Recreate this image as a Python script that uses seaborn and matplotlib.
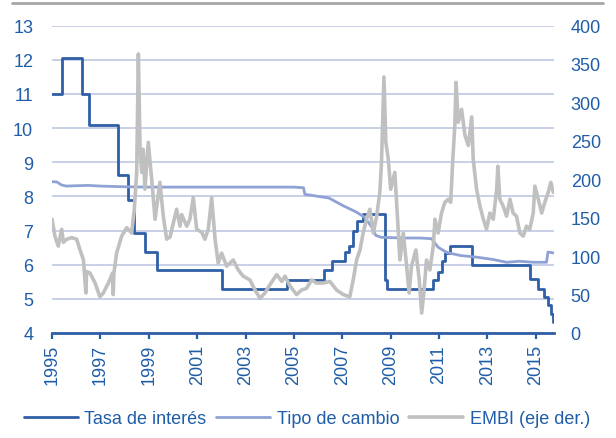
import numpy as np
import pandas as pd
import matplotlib
matplotlib.use("Agg")
import matplotlib.pyplot as plt
from matplotlib.lines import Line2D
import seaborn as sns

# Tasa de interés (escalones)
tasa_t = [1995.0, 1995.42, 1996.24, 1996.53, 1997.71, 1998.13, 1998.4, 1998.84,
          1999.33, 2002.03, 2004.7, 2006.24, 2006.56, 2007.1, 2007.29, 2007.45,
          2007.59, 2007.86, 2008.76, 2008.85, 2010.76, 2010.96, 2011.1, 2011.24,
          2011.45, 2012.36, 2014.77, 2015.1, 2015.35, 2015.5, 2015.64, 2015.7, 2015.75]
tasa_v = [11.0, 12.05, 11.0, 10.08, 8.62, 7.9, 6.92, 6.38,
          5.83, 5.3, 5.56, 5.85, 6.1, 6.38, 6.55, 7.0,
          7.27, 7.47, 5.56, 5.29, 5.56, 5.8, 6.12, 6.33,
          6.55, 5.99, 5.58, 5.29, 5.05, 4.82, 4.55, 4.33, 4.33]

# Tipo de cambio
tc_t = [1995.0, 1995.2, 1995.4, 1995.6, 1996.0, 1996.5, 1997.0, 1997.5, 1998.0,
        1999.0, 2001.0, 2003.0, 2005.0, 2005.4, 2005.45, 2006.45, 2007.05,
        2007.55, 2007.9, 2008.22, 2008.38, 2008.6, 2009.5, 2010.2, 2010.69,
        2010.96, 2011.31, 2011.86, 2012.55, 2013.24, 2013.79, 2014.34, 2014.89,
        2015.44, 2015.5, 2015.75]
tc_v = [8.43, 8.42, 8.33, 8.3, 8.31, 8.32, 8.3, 8.29, 8.28,
        8.27, 8.27, 8.27, 8.27, 8.25, 8.06, 7.95, 7.72,
        7.55, 7.4, 7.1, 6.86, 6.8, 6.78, 6.78, 6.76,
        6.51, 6.36, 6.27, 6.22, 6.15, 6.07, 6.1, 6.07,
        6.07, 6.37, 6.34]

# EMBI (eje derecho)
embi_t = [1995.0, 1995.12, 1995.26, 1995.4, 1995.47, 1995.61, 1995.82, 1996.02,
          1996.16, 1996.3, 1996.4, 1996.43, 1996.57, 1996.78, 1996.98, 1997.12,
          1997.33, 1997.5, 1997.53, 1997.56, 1997.67, 1997.88, 1998.09, 1998.29,
          1998.4, 1998.5, 1998.57, 1998.64, 1998.71, 1998.77, 1998.84, 1998.98,
          1999.12, 1999.26, 1999.46, 1999.6, 1999.74, 1999.88, 2000.15, 2000.29,
          2000.36, 2000.57, 2000.7, 2000.84, 2000.98, 2001.19, 2001.32, 2001.46,
          2001.6, 2001.74, 2001.87, 2002.01, 2002.22, 2002.49, 2002.7, 2002.9,
          2003.18, 2003.39, 2003.6, 2003.8, 2004.01, 2004.29, 2004.5, 2004.63,
          2004.84, 2005.11, 2005.32, 2005.52, 2005.73, 2005.93, 2006.21, 2006.49,
          2006.76, 2007.04, 2007.31, 2007.45, 2007.59, 2007.73, 2007.86, 2008.0,
          2008.14, 2008.28, 2008.42, 2008.55, 2008.62, 2008.72, 2008.8, 2008.9,
          2009.0, 2009.17, 2009.27, 2009.38, 2009.52, 2009.66, 2009.76, 2009.86,
          2010.04, 2010.18, 2010.28, 2010.37, 2010.48, 2010.62, 2010.76, 2010.83,
          2010.96, 2011.1, 2011.24, 2011.38, 2011.48, 2011.56, 2011.65, 2011.7,
          2011.79, 2011.93, 2012.07, 2012.21, 2012.35, 2012.41, 2012.55, 2012.69,
          2012.83, 2012.96, 2013.1, 2013.24, 2013.38, 2013.43, 2013.51, 2013.65,
          2013.79, 2013.93, 2014.06, 2014.2, 2014.34, 2014.48, 2014.61, 2014.75,
          2014.89, 2014.96, 2015.1, 2015.24, 2015.37, 2015.51, 2015.62, 2015.72]
embi_v = [148, 126, 113, 135, 118, 122, 124, 122,
          108, 95, 52, 80, 78, 65, 47, 52,
          65, 78, 50, 78, 104, 126, 137, 130,
          160, 209, 363, 239, 209, 239, 187, 248,
          200, 148, 196, 152, 122, 125, 161, 139,
          154, 139, 148, 176, 135, 131, 122, 135,
          176, 122, 91, 104, 87, 95, 82, 74,
          69, 56, 45, 52, 63, 76, 67, 74,
          61, 50, 56, 58, 69, 65, 65, 67,
          56, 50, 47, 69, 95, 108, 130, 148,
          161, 130, 152, 183, 222, 333, 248, 226,
          187, 209, 156, 95, 130, 87, 52, 87,
          108, 69, 26, 52, 95, 82, 113, 148,
          130, 156, 170, 174, 170, 222, 270, 326,
          274, 291, 257, 244, 281, 226, 187, 165,
          148, 135, 156, 148, 187, 217, 174, 165,
          152, 174, 156, 152, 130, 126, 139, 135,
          156, 191, 174, 156, 170, 183, 196, 183]

years = list(range(1995, 2016, 2))
labels = ["Tasa de interés", "Tipo de cambio", "EMBI (eje der.)"]

c_tasa = "#2F5FA7"
c_tc = "#8FA2D6"
c_embi = "#C0C0C0"
c_text = "#1F5DA8"
c_grid = "#B9C3E2"

sns.set_style("white")
plt.rcParams["font.family"] = ["Liberation Sans", "DejaVu Sans"]
plt.rcParams["font.size"] = 13

fig, ax = plt.subplots(figsize=(6.16, 4.39), dpi=100)
fig.subplots_adjust(left=52 / 616, right=554 / 616, top=1 - 26.5 / 439, bottom=1 - 334 / 439)
ax2 = ax.twinx()

df_tasa = pd.DataFrame({"t": tasa_t, "v": tasa_v})
df_tc = pd.DataFrame({"t": tc_t, "v": tc_v})
df_embi = pd.DataFrame({"t": embi_t, "v": embi_v})

sns.lineplot(data=df_tasa, x="t", y="v", ax=ax, color=c_tasa, lw=2.0,
             drawstyle="steps-post", label=labels[0], legend=False)
sns.lineplot(data=df_tc, x="t", y="v", ax=ax, color=c_tc, lw=2.0,
             label=labels[1], legend=False)
sns.lineplot(data=df_embi, x="t", y="v", ax=ax2, color=c_embi, lw=2.6,
             label=labels[2], legend=False)

ax.set_xlim(1995, 2015.75)
ax.set_ylim(4, 13)
ax2.set_ylim(0, 400)
ax.set_yticks(range(4, 14))
ax2.set_yticks(range(0, 401, 50))
ax.set_xticks(years)
ax.set_xticklabels([str(y) for y in years], rotation=90)
ax.set_xlabel("")
ax.set_ylabel("")
ax2.set_ylabel("")

ax.yaxis.grid(True, color=c_grid, lw=1.1)
ax.xaxis.grid(False)
ax2.grid(False)
ax.set_axisbelow(True)

for a in (ax, ax2):
    for s in ["top", "left", "right"]:
        a.spines[s].set_visible(False)
    a.spines["bottom"].set_visible(False)
ax.spines["bottom"].set_visible(True)
ax.spines["bottom"].set_color(c_tasa)
ax.spines["bottom"].set_linewidth(2.0)

ax.tick_params(axis="x", colors=c_text, length=4, width=1.6, direction="out",
               pad=4, labelsize=13, bottom=True)
ax.tick_params(axis="y", colors=c_text, length=0, pad=13.5, labelsize=13)
ax2.tick_params(axis="y", colors=c_text, length=0, pad=12, labelsize=13)
for t in ax.get_xticklabels() + ax.get_yticklabels() + ax2.get_yticklabels():
    t.set_color(c_text)

handles = ax.get_lines()[:2] + ax2.get_lines()[:1]
leg = fig.legend(handles, labels, loc="center", ncol=3, frameon=False,
                 bbox_to_anchor=(0.498, 1 - 420 / 439), handlelength=3.0,
                 handletextpad=0.35, columnspacing=0.55, fontsize=13,
                 borderaxespad=0)
for t in leg.get_texts():
    t.set_color(c_text)

# separator line at the top
fig.add_artist(Line2D([12 / 616, 603 / 616], [1 - 4 / 439, 1 - 4 / 439],
                      color="#A6A6A6", lw=2.0, transform=fig.transFigure))

fig.savefig("out.png", dpi=100)
